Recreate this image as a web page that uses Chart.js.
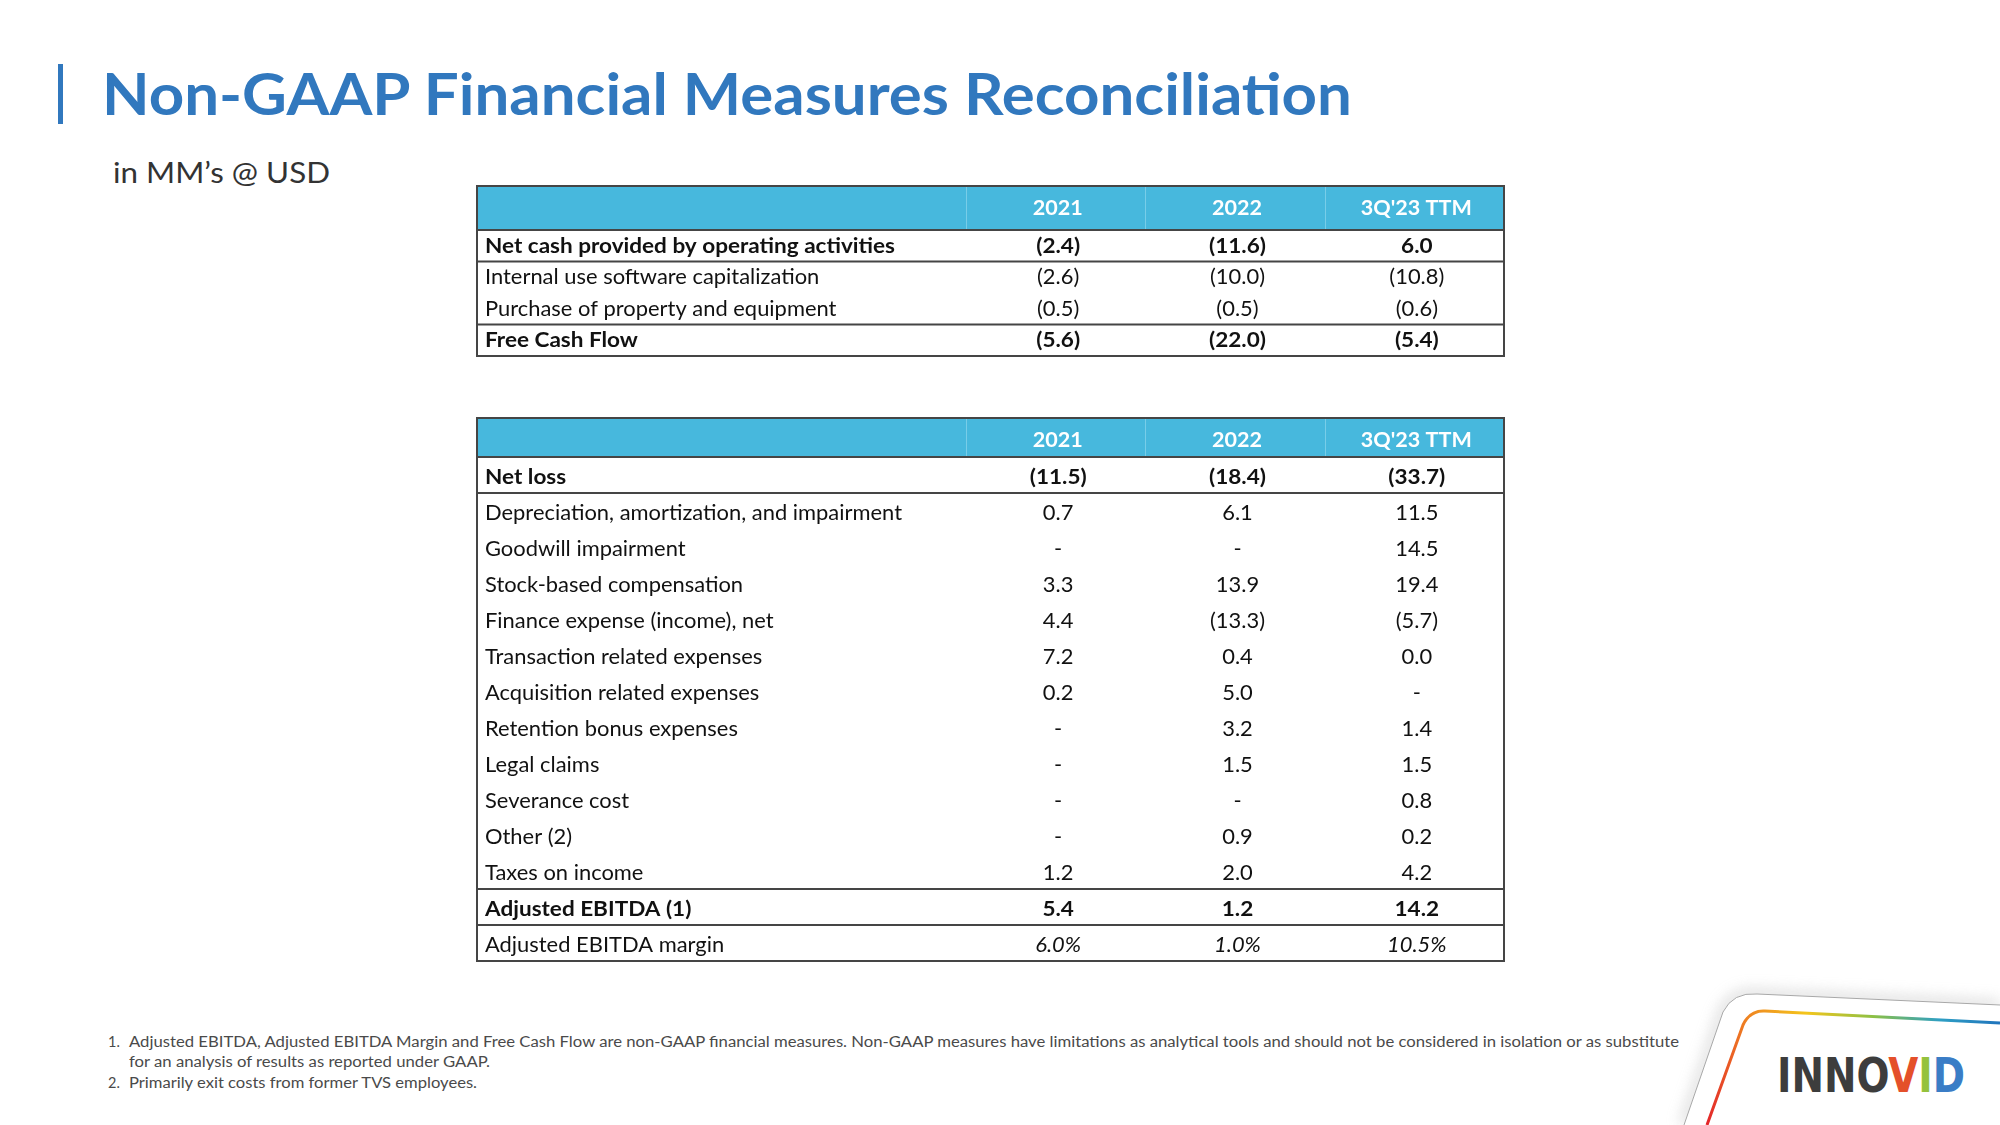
<!DOCTYPE html>
<html><head><meta charset="utf-8">
<script src="https://cdn.jsdelivr.net/npm/chart.js@4.4.1/dist/chart.umd.min.js"></script>
<style>
html,body{margin:0;padding:0;background:#fff;width:2000px;height:1125px;overflow:hidden;}
#page{position:relative;width:2000px;height:1125px;background:#fff;}
svg{position:absolute;left:0;top:0;}
canvas{position:absolute;}
</style></head><body><div id="page">
<svg id="deco" width="2000" height="1125" xmlns="http://www.w3.org/2000/svg">
  <defs>
    <linearGradient id="rb" x1="1707" y1="1125" x2="2000" y2="1023" gradientUnits="userSpaceOnUse">
      <stop offset="0" stop-color="#E3262A"/>
      <stop offset="0.22" stop-color="#EE7D22"/>
      <stop offset="0.42" stop-color="#F4C51C"/>
      <stop offset="0.62" stop-color="#8DC044"/>
      <stop offset="0.82" stop-color="#2E9FC4"/>
      <stop offset="1" stop-color="#2073BC"/>
    </linearGradient>
    <filter id="sh" x="-20%" y="-20%" width="140%" height="140%"><feGaussianBlur stdDeviation="7"/></filter>
  </defs>
  <rect x="58" y="64" width="5" height="60" fill="#3178BE"/>
  <text x="102" y="115" font-family="Lato" font-weight="700" font-size="58" fill="#3178BE" textLength="1250" lengthAdjust="spacingAndGlyphs">Non-GAAP Financial Measures Reconciliation</text>
  <text x="113" y="183" font-family="Lato" font-size="28" fill="#333333" textLength="217" lengthAdjust="spacingAndGlyphs">in MM’s @ USD</text>
  <g font-family="Lato" font-size="14.5" fill="#4a4a4a">
    <text x="108" y="1047">1.</text>
    <text x="129" y="1047" textLength="1550" lengthAdjust="spacingAndGlyphs">Adjusted EBITDA, Adjusted EBITDA Margin and Free Cash Flow  are non-GAAP financial measures. Non-GAAP measures have limitations as analytical tools and should not be considered in isolation or as substitute</text>
    <text x="129" y="1067" textLength="361" lengthAdjust="spacingAndGlyphs">for an analysis of results as reported under GAAP.</text>
    <text x="108" y="1088">2.</text>
    <text x="129" y="1088" textLength="348" lengthAdjust="spacingAndGlyphs">Primarily exit costs from former TVS employees.</text>
  </g>
  <path d="M1684 1125 L1723 1012 Q1733 992 1757 994 L2000 1005" stroke="#cfcfcf" stroke-width="10" fill="none" filter="url(#sh)" opacity="0.7"/>
  <path d="M1684 1125 L1723 1012 Q1733 992 1757 994 L2000 1005 L2000 1125 Z" fill="#ffffff"/>
  <path d="M1684 1125 L1723 1012 Q1733 992 1757 994 L2000 1005" stroke="#a8a8a8" stroke-width="1" fill="none"/>
  <path d="M1707 1125 L1743 1025 Q1750 1010 1765 1011 L2000 1023" stroke="url(#rb)" stroke-width="3" fill="none"/>
  <text x="1777" y="1092" font-family="Liberation Sans Narrow, DejaVu Sans Condensed, sans-serif" font-weight="700" font-size="48" textLength="188" lengthAdjust="spacingAndGlyphs"><tspan fill="#3d3d3d">INNO</tspan><tspan fill="#E4502A">V</tspan><tspan fill="#95C23D">I</tspan><tspan fill="#3A7DC6">D</tspan></text>
</svg>
<canvas id="t1" width="1040" height="182" style="left:470px;top:180px"></canvas>
<canvas id="t2" width="1040" height="556" style="left:470px;top:412px"></canvas>
</div>
<script>
// ---- data ----
const columns = ['2021', '2022', "3Q'23 TTM"];

const cashRows = ['Net cash provided by operating activities', 'Internal use software capitalization', 'Purchase of property and equipment', 'Free Cash Flow'];
const cash2021 = [-2.4, -2.6, -0.5, -5.6];
const cash2022 = [-11.6, -10.0, -0.5, -22.0];
const cashTTM  = [6.0, -10.8, -0.6, -5.4];
const cashBold = [0, 3];
const cashRules = [1, 3];

const ebitdaRows = ['Net loss', 'Depreciation, amortization, and impairment', 'Goodwill impairment', 'Stock-based compensation', 'Finance expense (income), net', 'Transaction related expenses', 'Acquisition related expenses', 'Retention bonus expenses', 'Legal claims', 'Severance cost', 'Other (2)', 'Taxes on income', 'Adjusted EBITDA (1)', 'Adjusted EBITDA margin'];
const ebitda2021 = [-11.5, 0.7, null, 3.3, 4.4, 7.2, 0.2, null, null, null, null, 1.2, 5.4, 6.0];
const ebitda2022 = [-18.4, 6.1, null, 13.9, -13.3, 0.4, 5.0, 3.2, 1.5, null, 0.9, 2.0, 1.2, 1.0];
const ebitdaTTM  = [-33.7, 11.5, 14.5, 19.4, -5.7, 0.0, null, 1.4, 1.5, 0.8, 0.2, 4.2, 14.2, 10.5];
const ebitdaBold = [0, 12];
const ebitdaPercentRows = [13];
const ebitdaRules = [1, 12, 13];

// ---- rendering ----
const FONT = 'Lato, "Noto Sans", sans-serif';
function fmt(v, pct) {
  if (v === null || v === undefined) return '-';
  if (pct) return v.toFixed(1) + '%';
  return v < 0 ? '(' + Math.abs(v).toFixed(1) + ')' : v.toFixed(1);
}
function drawText(ctx, text, x, y, align, font, color, sx) {
  ctx.save();
  ctx.font = font;
  ctx.fillStyle = color;
  ctx.textAlign = align;
  ctx.textBaseline = 'alphabetic';
  ctx.translate(x, y);
  ctx.scale(sx, 1);
  ctx.fillText(text, 0, 0);
  ctx.restore();
}
function measure(ctx, text, font) { ctx.save(); ctx.font = font; const w = ctx.measureText(text).width; ctx.restore(); return w; }

const tablePlugin = {
  id: 'tableCells',
  afterDraw(chart, args, o) {
    const ctx = chart.ctx;
    const xs = chart.scales.x, ys = chart.scales.y, ca = chart.chartArea;
    const left = ca.left - o.labelWidth, right = ca.right;
    const top = ca.top - o.headerHeight, bottom = ca.bottom;
    const band = xs.getPixelForValue(1) - xs.getPixelForValue(0);
    const rowH = ys.getPixelForValue(1) - ys.getPixelForValue(0);
    const regF = '400 20.5px ' + FONT, boldF = '700 20.5px ' + FONT, itF = 'italic 400 20.5px ' + FONT;
    const sxR = 417 / measure(ctx, 'Depreciation, amortization, and impairment', regF);
    const sxB = 410 / measure(ctx, 'Net cash provided by operating activities', boldF);
    const sxH = 111 / measure(ctx, "3Q'23 TTM", boldF);
    const base = o.baseOffset;

    // header band
    ctx.fillStyle = '#47B8DD';
    ctx.fillRect(left, top, right - left, o.headerHeight);
    ctx.strokeStyle = 'rgba(120,205,232,1)';
    ctx.lineWidth = 1;
    for (let i = 0; i < columns.length; i++) {
      const x = Math.round(xs.getPixelForValue(i) - band / 2) + 0.5;
      ctx.beginPath(); ctx.moveTo(x, top); ctx.lineTo(x, ca.top); ctx.stroke();
    }
    columns.forEach((c, i) => {
      drawText(ctx, c, xs.getPixelForValue(i) + 2, top + o.headerHeight / 2 + o.headBase, 'center', boldF, '#ffffff', sxH);
    });

    // body
    o.rows.forEach((label, r) => {
      const yc = ys.getPixelForValue(r);
      const bold = o.bold.includes(r);
      const pct = o.pct.includes(r);
      drawText(ctx, label, left + 8, yc + base, 'left', bold ? boldF : regF, '#111111', bold ? sxB : sxR);
      o.series.forEach((s, c) => {
        drawText(ctx, fmt(s[r], pct), xs.getPixelForValue(c) + 2.5, yc + base, 'center', bold ? boldF : (pct ? itF : regF), '#111111', bold ? sxB : sxR);
      });
    });

    // rules
    ctx.strokeStyle = '#454545';
    ctx.lineWidth = 2;
    ctx.beginPath(); ctx.moveTo(left, ca.top); ctx.lineTo(right, ca.top); ctx.stroke();
    o.rules.forEach(r => {
      const y = ys.getPixelForValue(r) - rowH / 2;
      ctx.beginPath(); ctx.moveTo(left, y); ctx.lineTo(right, y); ctx.stroke();
    });
    ctx.strokeRect(left, top, right - left, bottom - top);
  }
};

function makeTable(id, rows, series, bold, pct, rules, pad, labelWidth, headerHeight, baseOffset, headBase) {
  return new Chart(document.getElementById(id), {
    type: 'bar',
    data: { labels: rows, datasets: [] },
    options: {
      responsive: false, animation: false, events: [], devicePixelRatio: 1,
      layout: { padding: pad },
      plugins: {
        legend: { display: false }, tooltip: { enabled: false },
        tableCells: { rows, series, bold, pct, rules, labelWidth, headerHeight, baseOffset, headBase }
      },
      scales: {
        x: { type: 'category', labels: columns, offset: true, display: false },
        y: { type: 'category', labels: rows, offset: true, display: false }
      }
    },
    plugins: [tablePlugin]
  });
}

function build() {
  makeTable('t1', cashRows, [cash2021, cash2022, cashTTM], cashBold, [], cashRules,
    { left: 496, top: 50, right: 6, bottom: 6 }, 489, 44, 7, 6.5);
  makeTable('t2', ebitdaRows, [ebitda2021, ebitda2022, ebitdaTTM], ebitdaBold, ebitdaPercentRows, ebitdaRules,
    { left: 496, top: 45, right: 6, bottom: 7 }, 489, 39, 8.5, 9.5);
}
if (document.fonts && document.fonts.load) {
  Promise.all([document.fonts.load('400 20px Lato'), document.fonts.load('700 20px Lato'), document.fonts.load('italic 400 20px Lato')]).then(build, build);
} else build();
</script>
</body></html>
